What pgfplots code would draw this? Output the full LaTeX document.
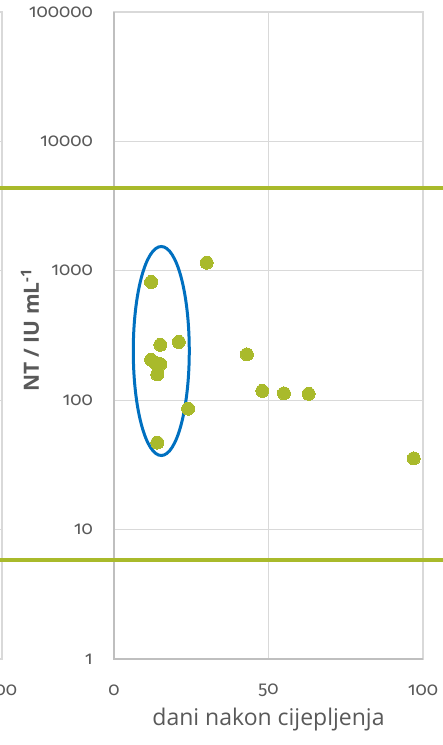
\documentclass[border=0pt]{standalone}
\usepackage{pgfplots}
\pgfplotsset{compat=1.18}
\usepackage{fontspec}
\setmainfont{Open Sans}
\newfontfamily\tickfont[Numbers=OldStyle]{Fira Sans}
\definecolor{lime}{RGB}{169,186,43}
\definecolor{ellblue}{RGB}{0,112,192}
\definecolor{txt}{RGB}{89,89,89}
\definecolor{gridc}{RGB}{217,217,217}
\definecolor{axc}{RGB}{191,191,191}
\begin{document}
\begin{tikzpicture}
% neighbouring panel (mostly outside the page)
\begin{axis}[ymode=log, at={(-421pt,0pt)}, anchor=south west,
  scale only axis, width=309pt, height=647pt,
  xmin=0, xmax=100, ymin=1, ymax=100000,
  xtick={0,50,100}, xticklabels={0,50,100},
  ytick={1,10,100,1000,10000,100000},
  yticklabels={}, yminorticks=false,
  grid=major, major grid style={gridc, line width=1.3pt},
  axis line style={gridc, line width=1.3pt},
  major tick length=0pt,
  tick label style={font=\tickfont\fontsize{18.5}{18.5}\selectfont, text=txt},
  xticklabel style={anchor=center, yshift=-31pt},
  clip=false]
\addplot[draw=none, forget plot] coordinates {(50,10)};
\end{axis}
\begin{axis}[ymode=log, at={(0pt,0pt)}, anchor=south west,
  scale only axis, width=309pt, height=647pt,
  xmin=0, xmax=100, ymin=1, ymax=100000,
  xtick={0,50,100}, xticklabels={0,50,100},
  ytick={1,10,100,1000,10000,100000},
  yticklabels={1,10,100,1000,10000,100000}, yminorticks=false,
  grid=major, major grid style={gridc, line width=1.3pt},
  axis line style={gridc, line width=1.3pt},
  major tick length=0pt,
  tick label style={font=\tickfont\fontsize{18.5}{18.5}\selectfont, text=txt},
  xticklabel style={anchor=center, yshift=-31pt},
  yticklabel style={anchor=east, inner sep=0pt, xshift=-21pt},
  clip=false,
  xlabel={dani nakon cijepljenja},
  xlabel style={font=\fontsize{23}{23}\selectfont, text=txt, at={(axis description cs:0.5,-0.094)}, anchor=center},
  ylabel={NT / IU mL\textsuperscript{-1}},
  ylabel style={font=\fontsize{21}{21}\selectfont\bfseries, text=txt, at={(axis description cs:-0.272,0.508)}, anchor=center},
]
\draw[axc, line width=1.5pt] (rel axis cs:0,1) -- (rel axis cs:0,0) -- (rel axis cs:1,0);
\addplot[lime, line width=4pt, forget plot] coordinates {(-40,4335) (110,4335)};
\addplot[lime, line width=4pt, forget plot] coordinates {(-40,5.86) (110,5.86)};
\addplot[lime, only marks, mark=*, mark size=6.5pt, mark options={fill=lime, draw=lime, line width=0pt}] coordinates {
(12,820) (15,268) (21,282) (12,205) (13,197) (15,190) (14,158) (24,86) (14,47)
(30,1155) (43,226) (48,118) (55,113) (63,112) (97,35.5)
};
\draw[ellblue, line width=3pt] (axis cs:15.3,240) ellipse [x radius=28pt, y radius=104.5pt];
\end{axis}
\pgfresetboundingbox
\useasboundingbox (-114pt,-86pt) rectangle (329pt,659pt);
\end{tikzpicture}
\end{document}
